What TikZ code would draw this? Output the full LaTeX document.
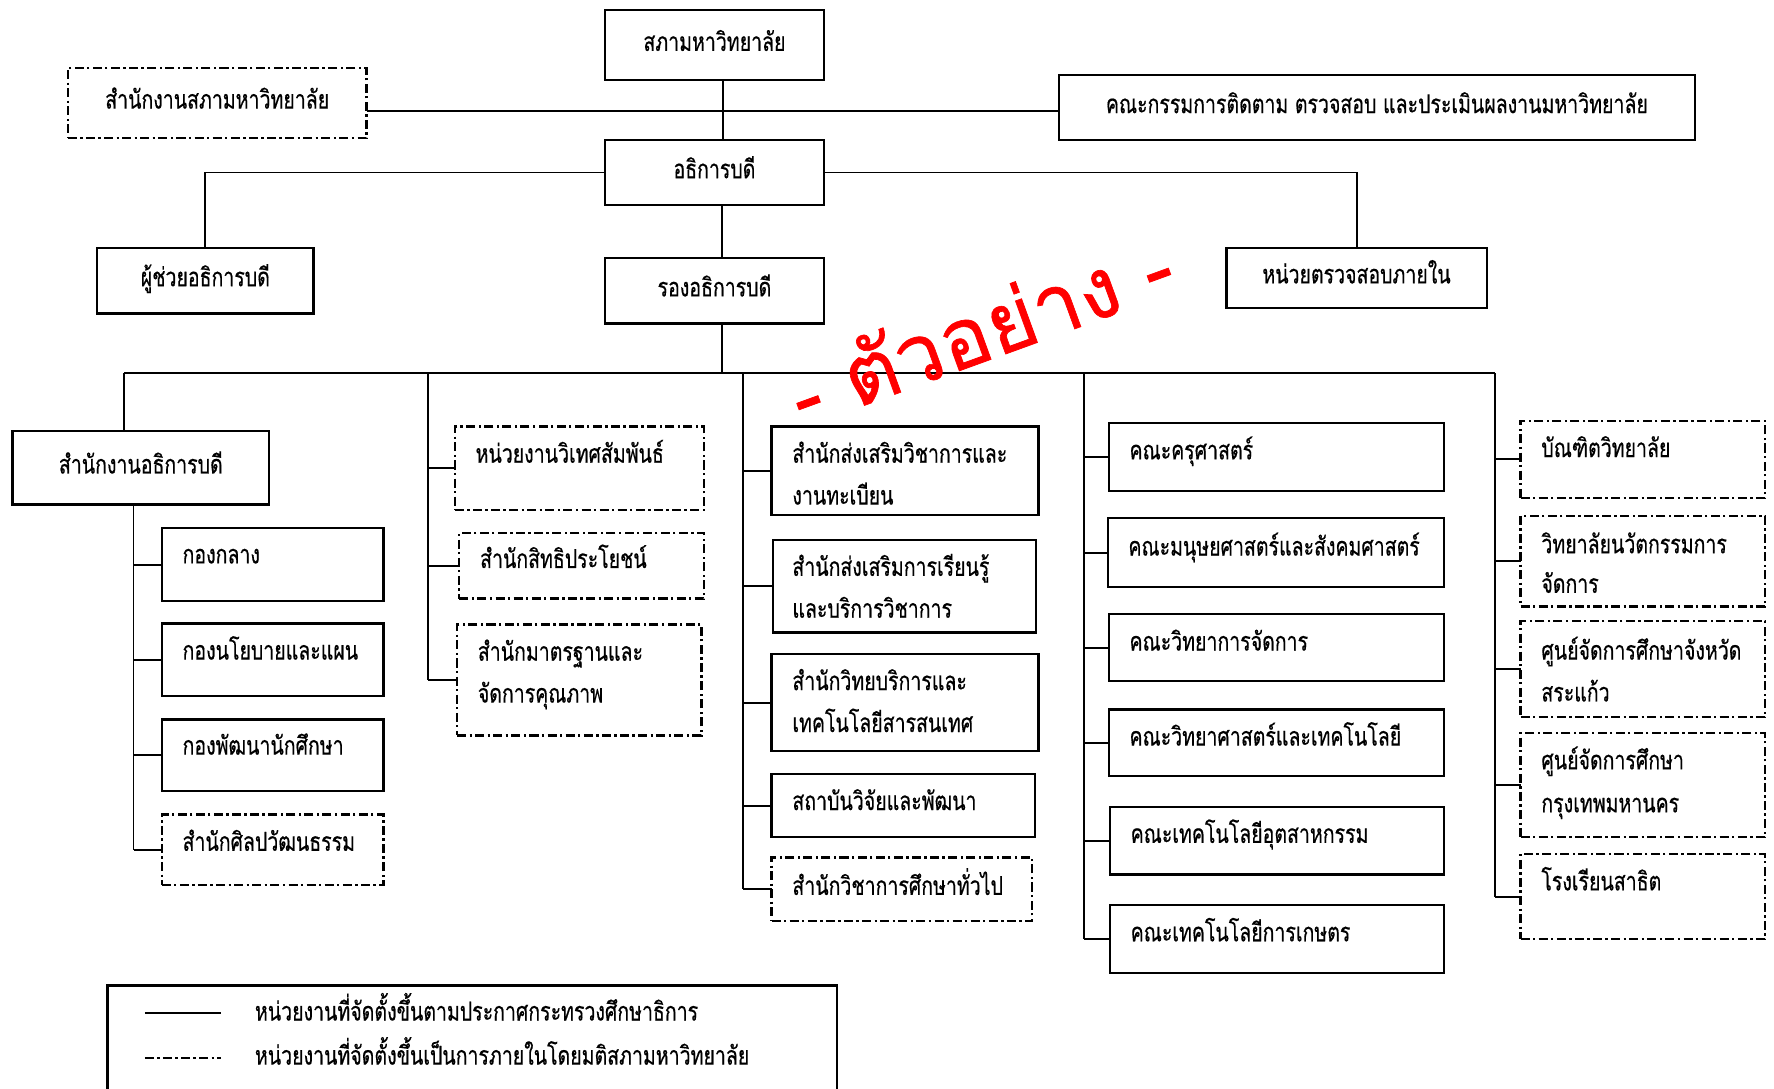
\documentclass[tikz,border=0pt]{standalone}
\usepackage{fontspec}
\newfontfamily\thai[Script=Thai,FakeStretch=0.75,FakeBold=0.5]{Loma}
\newfontfamily\thaiwm[Script=Thai,FakeBold=0.8]{Loma}
\usetikzlibrary{calc}
\tikzset{
  bx/.style={draw, line width=1pt, inner sep=0pt, outer sep=0pt,
    font=\thai\fontsize{11.5}{14}\selectfont, text height=0.5em, text depth=0pt},
  sbox/.style={bx},
  dbox/.style={bx, dash pattern=on 4pt off 1.5pt on 1pt off 1.5pt},
  conn/.style={line width=0.85pt},
  lbl/.style={font=\thai\fontsize{11.5}{14}\selectfont, inner sep=0pt, text height=0.5em, text depth=0pt},
}
\newcommand\mybox[7]{\node[#2, anchor=north west, minimum width={(#5-#3)*0.5pt}, minimum height={(#6-#4)*0.5pt}] (#1) at (#3,#4) {#7};}
\newcommand\mytext[4]{\node[lbl, anchor=west] (#1) at (#2,#3) {#4};}
\begin{document}
\begin{tikzpicture}[x=0.5pt,y=-0.5pt]
\clip (0,0) rectangle (1568,962);
\fill[white] (0,0) rectangle (1568,962);
% top part
\mybox{sapha}{sbox}{535}{9}{728}{71}{สภามหาวิทยาลัย}
\mybox{sapoff}{dbox}{60}{60}{324}{122}{สำนักงานสภามหาวิทยาลัย}
\mybox{committee}{sbox}{936}{66}{1498}{124}{คณะกรรมการติดตาม ตรวจสอบ และประเมินผลงานมหาวิทยาลัย}
\mybox{athi}{sbox}{535}{124}{728}{181}{อธิการบดี}
\mybox{asst}{sbox}{86}{219}{277}{277}{ผู้ช่วยอธิการบดี}
\mybox{audit}{sbox}{1084}{219}{1314}{272}{หน่วยตรวจสอบภายใน}
\mybox{rong}{sbox}{535}{228}{728}{286}{รองอธิการบดี}
\coordinate (j1) at (639,98);
\coordinate (bus) at (638,330);
\draw[conn] (sapha.south -| j1) -- (athi.north -| j1);
\draw[conn] (sapoff.east |- j1) -- (committee.west |- j1);
\draw[conn] (athi.west) -- (athi.west -| asst.north) -- (asst.north);
\draw[conn] (athi.east) -- (athi.east -| audit.north) -- (audit.north);
\draw[conn] (athi.south -| bus) -- (rong.north -| bus);
\draw[conn] (rong.south -| bus) -- (bus);
% bus columns
\coordinate (c1v) at (110,330);
\coordinate (c2v) at (378,330);
\coordinate (c3v) at (657,330);
\coordinate (c4v) at (958,330);
\coordinate (c5v) at (1321,330);
\draw[conn] (c1v) -- (c5v);
% column 1
\mybox{office}{sbox}{11}{381}{238}{446}{สำนักงานอธิการบดี}
\draw[conn] (c1v) -- (c1v |- office.north);
\coordinate (c1s) at (118,446);
\mybox{b11}{sbox}{143}{467}{339}{531}{}
\mybox{b12}{sbox}{143}{551}{339}{615}{}
\mybox{b13}{sbox}{143}{636}{339}{699}{}
\mybox{b14}{dbox}{143}{720}{339}{782}{}
\mytext{t11}{161}{493}{กองกลาง}
\mytext{t12}{161}{578}{กองนโยบายและแผน}
\mytext{t13}{161}{662}{กองพัฒนานักศึกษา}
\mytext{t14}{161}{747}{สำนักศิลปวัฒนธรรม}
\draw[conn] (c1s) -- (c1s |- b14.west);
\foreach \b in {b11,b12,b13,b14} \draw[conn] (c1s |- \b.west) -- (\b.west);
% column 2
\mybox{b21}{dbox}{402}{377}{622}{451}{}
\mybox{b22}{dbox}{406}{471}{622}{529}{}
\mybox{b23}{dbox}{404}{552}{620}{650}{}
\mytext{t21}{420}{404}{หน่วยงานวิเทศสัมพันธ์}
\mytext{t22}{424}{497}{สำนักสิทธิประโยชน์}
\mytext{t23a}{422}{579}{สำนักมาตรฐานและ}
\mytext{t23b}{422}{616}{จัดการคุณภาพ}
\draw[conn] (c2v) -- (c2v |- b23.west);
\foreach \b in {b21,b22,b23} \draw[conn] (c2v |- \b.west) -- (\b.west);
% column 3
\mybox{b31}{sbox}{682}{377}{918}{455}{}
\mybox{b32}{sbox}{683}{477}{916}{559}{}
\mybox{b33}{sbox}{682}{578}{918}{664}{}
\mybox{b34}{sbox}{682}{684}{915}{740}{}
\mybox{b35}{dbox}{682}{758}{912}{814}{}
\mytext{t31a}{700}{404}{สำนักส่งเสริมวิชาการและ}
\mytext{t31b}{700}{441}{งานทะเบียน}
\mytext{t32a}{700}{504}{สำนักส่งเสริมการเรียนรู้}
\mytext{t32b}{700}{541}{และบริการวิชาการ}
\mytext{t33a}{700}{605}{สำนักวิทยบริการและ}
\mytext{t33b}{700}{642}{เทคโนโลยีสารสนเทศ}
\mytext{t34}{700}{711}{สถาบันวิจัยและพัฒนา}
\mytext{t35}{700}{786}{สำนักวิชาการศึกษาทั่วไป}
\draw[conn] (c3v) -- (c3v |- b35.west);
\foreach \b in {b31,b32,b33,b34,b35} \draw[conn] (c3v |- \b.west) -- (\b.west);
% column 4
\mybox{b41}{sbox}{980}{374}{1276}{434}{}
\mybox{b42}{sbox}{979}{458}{1276}{519}{}
\mybox{b43}{sbox}{980}{543}{1276}{602}{}
\mybox{b44}{sbox}{980}{627}{1276}{686}{}
\mybox{b45}{sbox}{981}{713}{1276}{773}{}
\mybox{b46}{sbox}{981}{800}{1276}{860}{}
\mytext{t41}{998}{401}{คณะครุศาสตร์}
\mytext{t42}{997}{486}{คณะมนุษยศาสตร์และสังคมศาสตร์}
\mytext{t43}{998}{570}{คณะวิทยาการจัดการ}
\mytext{t44}{998}{654}{คณะวิทยาศาสตร์และเทคโนโลยี}
\mytext{t45}{999}{740}{คณะเทคโนโลยีอุตสาหกรรม}
\mytext{t46}{999}{827}{คณะเทคโนโลยีการเกษตร}
\draw[conn] (c4v) -- (c4v |- b46.west);
\foreach \b in {b41,b42,b43,b44,b45,b46} \draw[conn] (c4v |- \b.west) -- (\b.west);
% column 5
\mybox{b51}{dbox}{1344}{372}{1560}{440}{}
\mybox{b52}{dbox}{1344}{456}{1560}{536}{}
\mybox{b53}{dbox}{1344}{549}{1560}{634}{}
\mybox{b54}{dbox}{1344}{648}{1560}{740}{}
\mybox{b55}{dbox}{1344}{755}{1560}{830}{}
\mytext{t51}{1362}{399}{บัณฑิตวิทยาลัย}
\mytext{t52a}{1362}{484}{วิทยาลัยนวัตกรรมการ}
\mytext{t52b}{1362}{519}{จัดการ}
\mytext{t53a}{1362}{578}{ศูนย์จัดการศึกษาจังหวัด}
\mytext{t53b}{1362}{615}{สระแก้ว}
\mytext{t54a}{1362}{675}{ศูนย์จัดการศึกษา}
\mytext{t54b}{1362}{713}{กรุงเทพมหานคร}
\mytext{t55}{1362}{782}{โรงเรียนสาธิต}
\draw[conn] (c5v) -- (c5v |- b55.west);
\foreach \b in {b51,b52,b53,b54,b55} \draw[conn] (c5v |- \b.west) -- (\b.west);
% legend
\mybox{legend}{sbox}{95}{871}{740}{1000}{}
\coordinate (l1a) at (128,895); \coordinate (l1b) at (195,895);
\coordinate (l2a) at (128,935); \coordinate (l2b) at (195,935);
\draw[conn] (l1a) -- (l1b);
\draw[conn, dash pattern=on 4pt off 1.5pt on 1pt off 1.5pt] (l2a) -- (l2b);
\mytext{leg1}{225}{897}{หน่วยงานที่จัดตั้งขึ้นตามประกาศกระทรวงศึกษาธิการ}
\mytext{leg2}{225}{936}{หน่วยงานที่จัดตั้งขึ้นเป็นการภายในโดยมติสภามหาวิทยาลัย}
% watermark
\node[rotate=20, text={rgb,255:red,255;green,0;blue,0}, font=\thaiwm\fontsize{37}{44}\selectfont, inner sep=0pt] (wm) at (866,290) {- ตัวอย่าง -};
\end{tikzpicture}
\end{document}
